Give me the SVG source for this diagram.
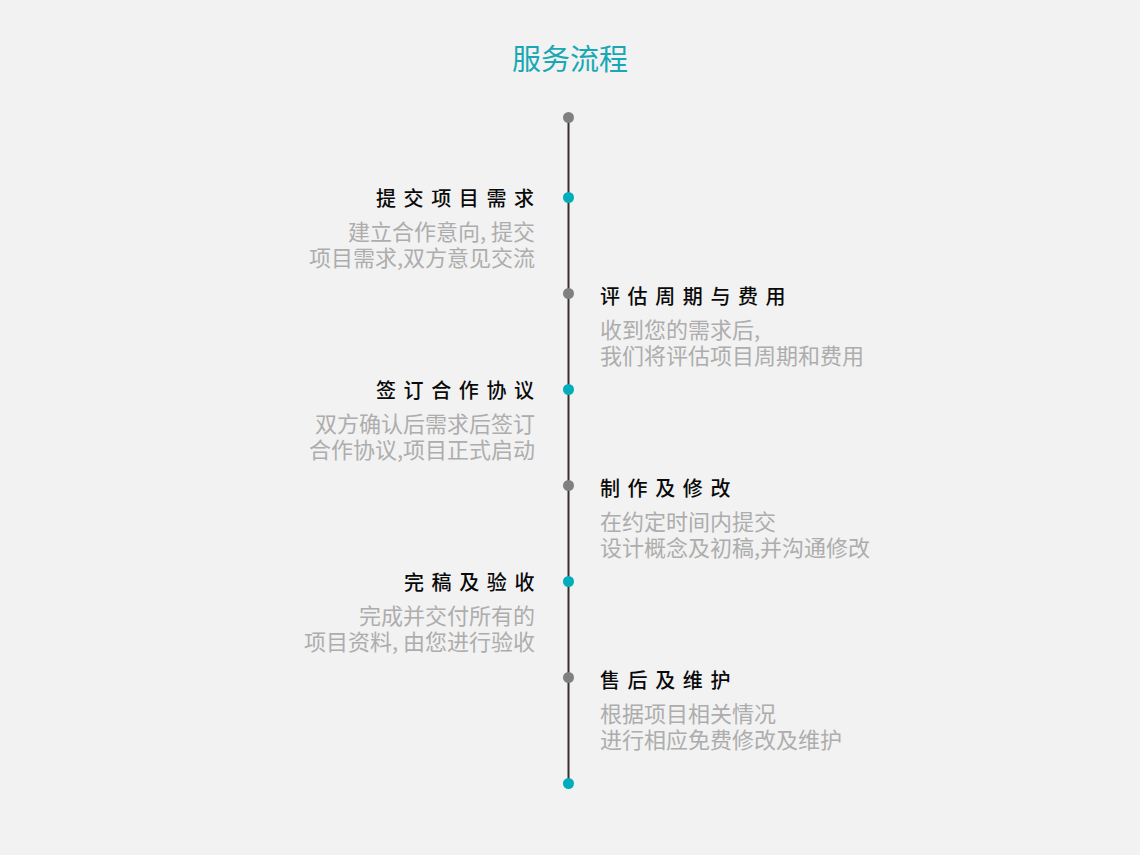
<svg xmlns="http://www.w3.org/2000/svg" width="1140" height="855" viewBox="0 0 1140 855">
<style>
text{font-family:"Noto Sans CJK SC","Noto Sans",sans-serif}
.title{font-size:29px;fill:#17a8b4;text-anchor:middle}
.h{font-size:20px;fill:#0a0a0a;letter-spacing:7.6px;font-weight:500}
.s{font-size:22px;fill:#adadad}
.sl{text-anchor:end}
.g{fill:#808080}
.t{fill:#00adbb}
</style>
<rect width="1140" height="855" fill="#f2f2f2"/>
<text class="title" x="570" y="70">服务流程</text>
<g id="connectors">
<line x1="568.5" y1="117" x2="568.5" y2="783" stroke="#3a3030" stroke-width="2"/>
</g>
<g id="dot-start"><circle class="g" cx="568.5" cy="117.5" r="5.5"/></g>
<g id="node1">
<circle class="t" cx="568.5" cy="197.5" r="5.5"/>
<text class="h" x="376" y="206">提交项目需求</text>
<text class="s sl"><tspan x="535" y="240">建立合作意向, 提交</tspan><tspan x="535" y="266">项目需求,双方意见交流</tspan></text>
</g>
<g id="node2">
<circle class="g" cx="568.5" cy="293.5" r="5.5"/>
<text class="h" x="600" y="304">评估周期与费用</text>
<text class="s"><tspan x="600" y="337.5">收到您的需求后,</tspan><tspan x="600" y="363.5">我们将评估项目周期和费用</tspan></text>
</g>
<g id="node3">
<circle class="t" cx="568.5" cy="389.5" r="5.5"/>
<text class="h" x="376" y="398">签订合作协议</text>
<text class="s sl"><tspan x="535" y="432">双方确认后需求后签订</tspan><tspan x="535" y="458">合作协议,项目正式启动</tspan></text>
</g>
<g id="node4">
<circle class="g" cx="568.5" cy="485.5" r="5.5"/>
<text class="h" x="600" y="496">制作及修改</text>
<text class="s"><tspan x="600" y="529.5">在约定时间内提交</tspan><tspan x="600" y="555.5">设计概念及初稿,并沟通修改</tspan></text>
</g>
<g id="node5">
<circle class="t" cx="568.5" cy="581.5" r="5.5"/>
<text class="h" x="404" y="590">完稿及验收</text>
<text class="s sl"><tspan x="535" y="624">完成并交付所有的</tspan><tspan x="535" y="650">项目资料, 由您进行验收</tspan></text>
</g>
<g id="node6">
<circle class="g" cx="568.5" cy="677.5" r="5.5"/>
<text class="h" x="600" y="688">售后及维护</text>
<text class="s"><tspan x="600" y="721.5">根据项目相关情况</tspan><tspan x="600" y="747.5">进行相应免费修改及维护</tspan></text>
</g>
<g id="dot-end"><circle class="t" cx="568.5" cy="783.5" r="5.5"/></g>
</svg>
